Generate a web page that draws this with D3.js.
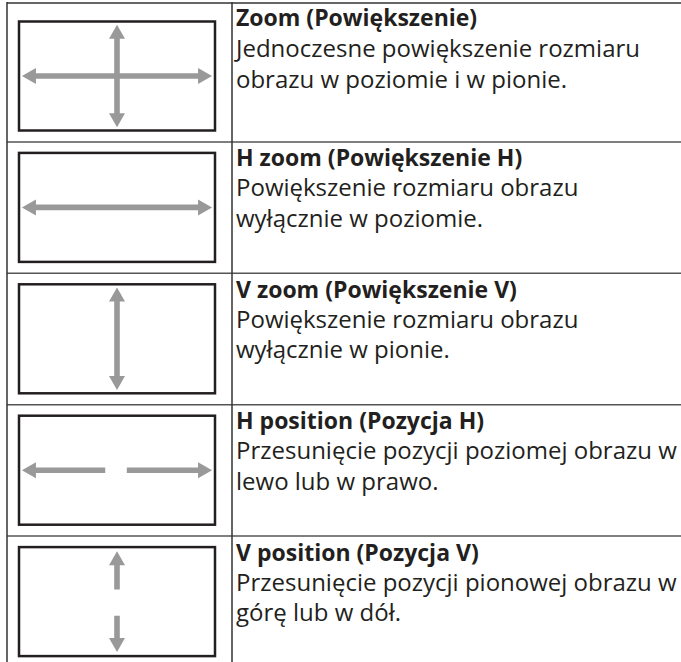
<!DOCTYPE html>
<html>
<head>
<meta charset="utf-8">
<script src="https://cdn.jsdelivr.net/npm/d3@7"></script>
<style>
html,body{margin:0;padding:0;background:#fff;}
svg{display:block;}
</style>
</head>
<body>
<svg id="chart" width="681" height="662"></svg>
<script>
// ---- data ----
const titles = [
  "Zoom (Powiększenie)",
  "H zoom (Powiększenie H)",
  "V zoom (Powiększenie V)",
  "H position (Pozycja H)",
  "V position (Pozycja V)"
];
const descLine1 = [
  "Jednoczesne powiększenie rozmiaru",
  "Powiększenie rozmiaru obrazu",
  "Powiększenie rozmiaru obrazu",
  "Przesunięcie pozycji poziomej obrazu w",
  "Przesunięcie pozycji pionowej obrazu w"
];
const descLine2 = [
  "obrazu w poziomie i w pionie.",
  "wyłącznie w poziomie.",
  "wyłącznie w pionie.",
  "lewo lub w prawo.",
  "górę lub w dół."
];
// arrows per row: [x1, y1, x2, y2, headAtStart, headAtEnd] in box fractions
const arrows = [
  [[0.015,0.5,0.985,0.5,1,1],[0.5,0.03,0.5,0.97,1,1]],
  [[0.015,0.5,0.985,0.5,1,1]],
  [[0.5,0.03,0.5,0.97,1,1]],
  [[0.015,0.5,0.44,0.5,1,0],[0.55,0.5,0.985,0.5,0,1]],
  [[0.5,0.037,0.5,0.39,1,0],[0.5,0.63,0.5,0.963,0,1]]
];

// ---- layout ----
const svg = d3.select("#chart");
const W = 681, H = 662;
const leftX = 7, colX = 232, topLineY = 3;
const rowY = d3.scaleLinear().domain([0, 5]).range([10.5, 667.5]);
const boxX = d3.scaleLinear().domain([0, 1]).range([19, 215]);
const boxTop = 11, boxH = 109;

const fontFam = "'Open Sans', 'Noto Sans', sans-serif";
const ink = "#231f20";
const arrowCol = "#999999";

// table lines
svg.append("line").attr("x1", leftX).attr("x2", W).attr("y1", topLineY).attr("y2", topLineY)
  .attr("stroke", "#666").attr("stroke-width", 2);
svg.selectAll("line.row").data(d3.range(1, 5)).join("line").attr("class", "row")
  .attr("x1", leftX).attr("x2", W).attr("y1", d => rowY(d)).attr("y2", d => rowY(d))
  .attr("stroke", "#555").attr("stroke-width", 1.5);
svg.append("line").attr("x1", leftX).attr("x2", leftX).attr("y1", topLineY - 1).attr("y2", H)
  .attr("stroke", "#333").attr("stroke-width", 1.5);
svg.append("line").attr("x1", colX).attr("x2", colX).attr("y1", topLineY - 1).attr("y2", H)
  .attr("stroke", "#333").attr("stroke-width", 1.5);

const rows = svg.selectAll("g.rowg").data(titles).join("g").attr("class", "rowg")
  .attr("transform", (d, i) => `translate(0,${rowY(i)})`);

// boxes
rows.append("rect")
  .attr("x", boxX(0)).attr("y", boxTop)
  .attr("width", boxX(1) - boxX(0)).attr("height", boxH)
  .attr("fill", "none").attr("stroke", ink).attr("stroke-width", 2.5);

// arrows
const shaft = 2.8, headL = 14, headW = 8;
function arrowPath(a) {
  const by = d3.scaleLinear().domain([0, 1]).range([boxTop, boxTop + boxH]);
  const x1 = boxX(a[0]), y1 = by(a[1]), x2 = boxX(a[2]), y2 = by(a[3]);
  const len = Math.hypot(x2 - x1, y2 - y1);
  const ux = (x2 - x1) / len, uy = (y2 - y1) / len;
  const px = -uy, py = ux;
  const pts = [];
  const s0 = a[4] ? headL : 0, s1 = a[5] ? len - headL : len;
  const P = (t, w) => [x1 + ux * t + px * w, y1 + uy * t + py * w];
  if (a[4]) { pts.push(P(0, 0), P(headL, headW), P(s0, shaft)); } else { pts.push(P(0, shaft)); }
  if (a[5]) { pts.push(P(s1, shaft), P(s1, headW), P(len, 0), P(s1, -headW), P(s1, -shaft)); }
  else { pts.push(P(len, shaft), P(len, -shaft)); }
  if (a[4]) { pts.push(P(s0, -shaft), P(headL, -headW)); } else { pts.push(P(0, -shaft)); }
  return d3.line()(pts) + "Z";
}
rows.each(function(d, i) {
  d3.select(this).selectAll("path.arrow").data(arrows[i]).join("path").attr("class", "arrow")
    .attr("d", arrowPath).attr("fill", arrowCol);
});

// texts (first row sits closer to the top border)
const textX = 236;
const shiftY = i => (i === 0 ? -8.5 : 0);
rows.append("text").attr("x", textX).attr("y", (d, i) => 24.5 + shiftY(i) - (i === 0 ? 0.5 : 0))
  .attr("font-family", fontFam).attr("font-weight", 700).attr("font-size", 23)
  .attr("fill", ink).text(d => d);
rows.append("text").attr("x", textX).attr("y", (d, i) => 54.5 + shiftY(i))
  .attr("font-family", fontFam).attr("font-size", 24)
  .attr("fill", ink).text((d, i) => descLine1[i]);
rows.append("text").attr("x", textX).attr("y", (d, i) => 85 + shiftY(i) + (i === 0 ? 1 : 0))
  .attr("font-family", fontFam).attr("font-size", 24)
  .attr("fill", ink).text((d, i) => descLine2[i]);
</script>
</body>
</html>
